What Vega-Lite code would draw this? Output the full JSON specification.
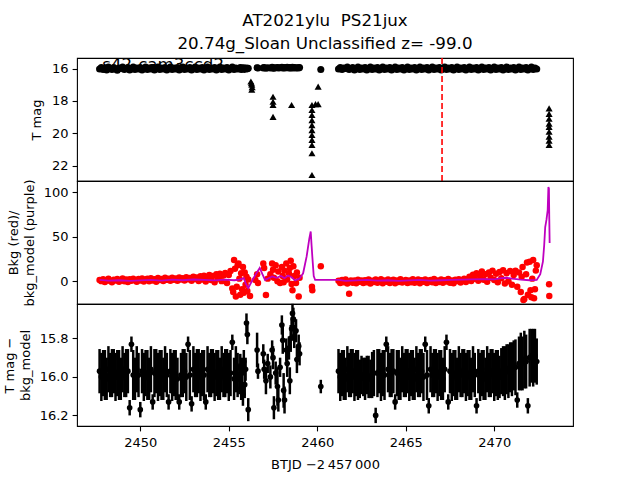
{
  "$schema": "https://vega.github.io/schema/vega-lite/v6.json",
  "padding": {"left": 2, "top": 12, "right": 60, "bottom": 5},
  "background": "white",
  "spacing": 0,
  "bounds": "flush",
  "datasets": {
    "lc": [
      {"t":2447.7,"m":16.03,"b":1.5,"d":15.97,"e":0.115},
      {"t":2447.8,"m":15.94,"b":0.2,"d":16.0,"e":0.125},
      {"t":2447.9,"m":16.06,"b":2.4,"d":15.98,"e":0.12},
      {"t":2448.0,"m":15.97,"b":-0.8,"d":15.99,"e":0.13},
      {"t":2448.1,"m":16.09,"b":1.1,"d":16.01,"e":0.11},
      {"t":2448.2,"m":15.91,"b":2.9,"d":15.96,"e":0.12},
      {"t":2448.3,"m":16.0,"b":0.4,"d":15.99,"e":0.115},
      {"t":2448.4,"m":16.06,"b":-1.0,"d":15.98,"e":0.125},
      {"t":2448.5,"m":15.94,"b":1.8,"d":15.97,"e":0.115},
      {"t":2448.6,"m":16.03,"b":0.9,"d":16.0,"e":0.125},
      {"t":2448.7,"m":16.1,"b":2.6,"d":15.98,"e":0.12},
      {"t":2448.8,"m":15.97,"b":-0.5,"d":15.99,"e":0.13},
      {"t":2448.9,"m":16.0,"b":1.3,"d":16.01,"e":0.11},
      {"t":2449.0,"m":15.91,"b":3.1,"d":15.96,"e":0.12},
      {"t":2449.1,"m":16.06,"b":0.0,"d":15.99,"e":0.115},
      {"t":2449.2,"m":16.0,"b":1.9,"d":15.98,"e":0.125},
      {"t":2449.3,"m":15.94,"b":-0.9,"d":15.97,"e":0.115},
      {"t":2449.4,"m":16.09,"b":2.2,"d":16.16,"e":0.04},
      {"t":2449.5,"m":16.03,"b":0.6,"d":15.83,"e":0.04},
      {"t":2449.6,"m":15.91,"b":3.0,"d":15.99,"e":0.13},
      {"t":2449.7,"m":16.06,"b":1.2,"d":16.01,"e":0.11},
      {"t":2449.8,"m":15.97,"b":-0.6,"d":15.96,"e":0.12},
      {"t":2449.9,"m":16.03,"b":2.5,"d":15.99,"e":0.115},
      {"t":2450.0,"m":15.94,"b":0.8,"d":16.17,"e":0.04},
      {"t":2450.1,"m":16.09,"b":3.3,"d":15.97,"e":0.115},
      {"t":2450.2,"m":16.0,"b":-0.3,"d":16.0,"e":0.125},
      {"t":2450.3,"m":15.91,"b":1.9,"d":15.98,"e":0.12},
      {"t":2450.4,"m":16.06,"b":2.8,"d":15.99,"e":0.13},
      {"t":2450.5,"m":15.97,"b":0.1,"d":16.01,"e":0.11},
      {"t":2450.6,"m":16.03,"b":3.5,"d":15.96,"e":0.12},
      {"t":2450.7,"m":15.94,"b":1.0,"d":16.13,"e":0.04},
      {"t":2450.8,"m":16.09,"b":2.2,"d":15.98,"e":0.125},
      {"t":2450.9,"m":16.0,"b":-0.4,"d":15.97,"e":0.115},
      {"t":2451.0,"m":15.91,"b":3.6,"d":16.0,"e":0.125},
      {"t":2451.1,"m":16.06,"b":1.4,"d":15.98,"e":0.12},
      {"t":2451.2,"m":15.97,"b":2.7,"d":15.99,"e":0.13},
      {"t":2451.3,"m":16.03,"b":0.3,"d":16.01,"e":0.11},
      {"t":2451.4,"m":15.94,"b":3.9,"d":15.96,"e":0.12},
      {"t":2451.5,"m":16.09,"b":1.6,"d":15.99,"e":0.115},
      {"t":2451.6,"m":16.0,"b":2.9,"d":16.13,"e":0.04},
      {"t":2451.7,"m":15.91,"b":0.5,"d":15.97,"e":0.115},
      {"t":2451.8,"m":16.06,"b":4.1,"d":16.0,"e":0.125},
      {"t":2451.9,"m":15.97,"b":1.8,"d":15.98,"e":0.12},
      {"t":2452.0,"m":16.03,"b":3.2,"d":15.99,"e":0.13},
      {"t":2452.1,"m":15.94,"b":0.6,"d":16.01,"e":0.11},
      {"t":2452.2,"m":16.09,"b":4.4,"d":16.13,"e":0.04},
      {"t":2452.3,"m":16.0,"b":2.0,"d":15.99,"e":0.115},
      {"t":2452.4,"m":15.91,"b":3.4,"d":15.98,"e":0.125},
      {"t":2452.5,"m":16.06,"b":0.9,"d":15.97,"e":0.115},
      {"t":2452.6,"m":15.97,"b":4.7,"d":16.0,"e":0.125},
      {"t":2452.7,"m":16.03,"b":2.3,"d":15.83,"e":0.04},
      {"t":2452.8,"m":15.94,"b":3.8,"d":15.99,"e":0.13},
      {"t":2452.9,"m":16.09,"b":0.7,"d":16.14,"e":0.04},
      {"t":2453.0,"m":16.0,"b":5.0,"d":15.96,"e":0.12},
      {"t":2453.1,"m":15.91,"b":2.5,"d":15.99,"e":0.115},
      {"t":2453.2,"m":16.06,"b":4.2,"d":15.98,"e":0.125},
      {"t":2453.3,"m":15.97,"b":0.4,"d":15.97,"e":0.115},
      {"t":2453.4,"m":16.03,"b":5.6,"d":16.0,"e":0.125},
      {"t":2453.5,"m":15.94,"b":2.1,"d":15.98,"e":0.12},
      {"t":2453.6,"m":16.09,"b":6.3,"d":15.99,"e":0.13},
      {"t":2453.7,"m":16.0,"b":-0.2,"d":16.13,"e":0.04},
      {"t":2453.8,"m":15.91,"b":4.8,"d":15.96,"e":0.12},
      {"t":2453.9,"m":16.06,"b":7.0,"d":15.99,"e":0.115},
      {"t":2454.0,"m":15.97,"b":1.5,"d":15.98,"e":0.125},
      {"t":2454.1,"m":16.03,"b":6.1,"d":15.97,"e":0.115},
      {"t":2454.2,"m":15.94,"b":-1.2,"d":16.0,"e":0.125},
      {"t":2454.3,"m":16.09,"b":7.8,"d":15.98,"e":0.12},
      {"t":2454.4,"m":16.0,"b":3.0,"d":15.99,"e":0.13},
      {"t":2454.5,"m":15.91,"b":8.5,"d":16.01,"e":0.11},
      {"t":2454.6,"m":16.06,"b":0.2,"d":15.96,"e":0.12},
      {"t":2454.7,"m":15.97,"b":6.6,"d":15.99,"e":0.115},
      {"t":2454.8,"m":16.03,"b":9.4,"d":15.98,"e":0.125},
      {"t":2454.9,"m":15.94,"b":-2.0,"d":15.97,"e":0.115},
      {"t":2455.0,"m":16.09,"b":7.2,"d":16.0,"e":0.125},
      {"t":2455.1,"m":16.0,"b":11.5,"d":15.98,"e":0.12},
      {"t":2455.2,"m":15.91,"b":-8.0,"d":15.82,"e":0.04},
      {"t":2455.25,"b":-12},
      {"t":2455.3,"m":16.06,"b":24.0,"d":16.01,"e":0.11},
      {"t":2455.35,"b":14},
      {"t":2455.4,"m":15.97,"b":-17.0,"d":15.96,"e":0.12},
      {"t":2455.45,"b":-6},
      {"t":2455.5,"m":16.03,"b":18.0,"d":15.99,"e":0.115},
      {"t":2455.55,"b":20},
      {"t":2455.6,"m":16.0,"b":3,"d":16.01,"e":0.08},
      {"t":2455.65,"m":15.94,"b":-15,"d":15.95,"e":0.07},
      {"t":2455.7,"m":16.06,"b":9,"d":16.06,"e":0.06},
      {"t":2455.75,"m":15.97,"b":-9,"d":15.98,"e":0.08},
      {"t":2455.8,"m":16.03,"b":16,"d":16.09,"e":0.06},
      {"t":2455.85,"m":15.95,"b":-13,"d":15.92,"e":0.06},
      {"t":2455.9,"m":16.05,"b":10,"d":16.04,"e":0.07},
      {"t":2455.95,"m":16.0,"b":-4,"d":15.96,"e":0.06},
      {"t":2456.0,"m":15.97,"b":5,"d":15.72,"e":0.05},
      {"t":2456.05,"m":16.02,"b":-11,"d":15.78,"e":0.05},
      {"t":2456.1,"m":15.98,"b":2,"d":16.17,"e":0.06},
      {"t":2456.2,"b":-16.5},
      {"t":2456.5,"b":1.5},
      {"t":2456.6,"m":15.95,"b":8,"d":15.86,"e":0.09},
      {"t":2456.65,"m":15.97,"b":-2,"d":15.97,"e":0.04},
      {"t":2456.95,"m":15.96,"b":20,"d":15.88,"e":0.05},
      {"t":2457.0,"m":15.94,"b":15,"d":15.96,"e":0.05},
      {"t":2457.1,"m":15.98,"b":-15.5,"d":16.02,"e":0.07},
      {"t":2457.2,"m":15.95,"b":3,"d":15.93,"e":0.05},
      {"t":2457.35,"m":15.97,"b":8,"d":16.0,"e":0.06},
      {"t":2457.45,"m":15.93,"b":20,"d":15.86,"e":0.05},
      {"t":2457.5,"m":15.96,"b":13,"d":15.9,"e":0.06},
      {"t":2457.55,"m":15.98,"b":4,"d":16.16,"e":0.06},
      {"t":2457.65,"m":15.95,"b":18,"d":15.98,"e":0.06},
      {"t":2457.75,"m":15.94,"b":0,"d":16.05,"e":0.1},
      {"t":2457.8,"m":15.97,"b":11,"d":16.12,"e":0.06},
      {"t":2457.9,"m":15.95,"b":-2,"d":15.95,"e":0.05},
      {"t":2458.0,"m":15.93,"b":16,"d":15.73,"e":0.05},
      {"t":2458.05,"m":15.96,"b":6,"d":15.81,"e":0.07},
      {"t":2458.1,"m":15.94,"b":-1,"d":16.07,"e":0.09},
      {"t":2458.15,"m":15.97,"b":12,"d":16.12,"e":0.07},
      {"t":2458.25,"m":15.95,"b":20,"d":15.86,"e":0.06},
      {"t":2458.3,"m":15.93,"b":2,"d":15.93,"e":0.07},
      {"t":2458.4,"m":15.96,"b":9,"d":15.85,"e":0.06},
      {"t":2458.45,"m":15.94,"b":15,"d":16.02,"e":0.07},
      {"t":2458.5,"m":15.97,"b":23,"d":15.8,"e":0.07},
      {"t":2458.55,"m":15.95,"b":-3,"d":15.75,"e":0.06},
      {"t":2458.6,"m":15.93,"b":-10,"d":15.67,"e":0.05},
      {"t":2458.65,"m":15.96,"b":17,"d":15.7,"e":0.06},
      {"t":2458.7,"m":15.94,"b":6,"d":15.79,"e":0.06},
      {"t":2458.8,"m":15.97,"b":-2,"d":15.76,"e":0.06},
      {"t":2458.85,"m":15.95,"b":10,"d":15.91,"e":0.07},
      {"t":2458.95,"m":15.96,"b":-17,"d":15.84,"e":0.06},
      {"t":2459.0,"m":15.94,"b":4,"d":15.88,"e":0.06},
      {"t":2459.7,"b":-6},
      {"t":2459.72,"b":-10},
      {"t":2460.2,"m":16.06,"b":17,"d":16.05,"e":0.035},
      {"t":2461.2,"m":16.03,"b":0.5,"d":15.97,"e":0.115},
      {"t":2461.3,"m":15.94,"b":-2.0,"d":16.0,"e":0.125},
      {"t":2461.4,"m":16.06,"b":1.5,"d":15.98,"e":0.12},
      {"t":2461.5,"m":15.97,"b":-1.0,"d":15.99,"e":0.13},
      {"t":2461.6,"m":16.0,"b":2.0,"d":16.01,"e":0.11},
      {"t":2461.7,"m":15.91,"b":-2.5,"d":15.96,"e":0.12},
      {"t":2461.8,"m":16.06,"b":-14.0,"d":15.99,"e":0.115},
      {"t":2461.9,"m":16.0,"b":1.0,"d":15.98,"e":0.125},
      {"t":2462.0,"m":15.94,"b":-1.5,"d":15.97,"e":0.115},
      {"t":2462.1,"m":16.09,"b":0.8,"d":16.0,"e":0.125},
      {"t":2462.2,"m":16.0,"b":-2.2,"d":15.98,"e":0.12},
      {"t":2462.3,"m":15.91,"b":1.8,"d":15.99,"e":0.13},
      {"t":2462.4,"m":16.06,"b":-0.6,"d":16.01,"e":0.1},
      {"t":2462.5,"m":15.97,"b":0.9,"d":15.99,"e":0.1},
      {"t":2462.6,"m":16.03,"b":-2.0,"d":16.0,"e":0.1},
      {"t":2462.7,"m":15.94,"b":1.3,"d":16.01,"e":0.11},
      {"t":2462.8,"m":16.09,"b":-1.1,"d":15.99,"e":0.1},
      {"t":2462.9,"m":16.0,"b":2.1,"d":16.0,"e":0.11},
      {"t":2463.0,"m":15.91,"b":-2.4,"d":16.01,"e":0.1},
      {"t":2463.1,"m":16.06,"b":0.7,"d":15.99,"e":0.12},
      {"t":2463.2,"m":15.97,"b":-0.9,"d":15.98,"e":0.12},
      {"t":2463.3,"m":16.03,"b":1.9,"d":16.2,"e":0.04},
      {"t":2463.4,"m":15.94,"b":-1.7,"d":15.98,"e":0.125},
      {"t":2463.5,"m":16.09,"b":0.4,"d":15.97,"e":0.115},
      {"t":2463.6,"m":16.0,"b":2.3,"d":16.0,"e":0.125},
      {"t":2463.7,"m":15.91,"b":-2.1,"d":15.98,"e":0.12},
      {"t":2463.8,"m":16.06,"b":1.0,"d":15.99,"e":0.13},
      {"t":2463.9,"m":15.97,"b":-0.4,"d":15.83,"e":0.04},
      {"t":2464.0,"m":16.03,"b":2.0,"d":15.96,"e":0.12},
      {"t":2464.1,"m":15.94,"b":-1.8,"d":15.99,"e":0.115},
      {"t":2464.2,"m":16.09,"b":0.6,"d":15.98,"e":0.125},
      {"t":2464.3,"m":16.0,"b":1.7,"d":15.97,"e":0.115},
      {"t":2464.4,"m":15.91,"b":-2.3,"d":16.13,"e":0.04},
      {"t":2464.5,"m":16.06,"b":0.9,"d":15.98,"e":0.12},
      {"t":2464.6,"m":15.97,"b":-0.7,"d":15.99,"e":0.13},
      {"t":2464.7,"m":16.03,"b":2.2,"d":16.01,"e":0.11},
      {"t":2464.8,"m":15.94,"b":-1.4,"d":15.96,"e":0.12},
      {"t":2464.9,"m":16.09,"b":0.3,"d":15.99,"e":0.115},
      {"t":2465.0,"m":16.0,"b":1.6,"d":15.98,"e":0.125},
      {"t":2465.1,"m":15.91,"b":-2.0,"d":15.97,"e":0.115},
      {"t":2465.2,"m":16.06,"b":0.8,"d":16.0,"e":0.125},
      {"t":2465.3,"m":15.97,"b":-1.0,"d":15.98,"e":0.12},
      {"t":2465.4,"m":16.03,"b":2.4,"d":15.99,"e":0.13},
      {"t":2465.5,"m":15.94,"b":-1.6,"d":16.01,"e":0.11},
      {"t":2465.6,"m":16.09,"b":0.5,"d":15.96,"e":0.12},
      {"t":2465.7,"m":16.0,"b":1.9,"d":15.99,"e":0.115},
      {"t":2465.8,"m":15.91,"b":-2.2,"d":15.98,"e":0.125},
      {"t":2465.9,"m":16.06,"b":1.1,"d":15.97,"e":0.115},
      {"t":2466.0,"m":15.97,"b":-0.5,"d":16.0,"e":0.125},
      {"t":2466.1,"m":16.03,"b":2.0,"d":15.83,"e":0.04},
      {"t":2466.2,"m":15.94,"b":-1.9,"d":15.99,"e":0.13},
      {"t":2466.3,"m":16.09,"b":0.7,"d":16.15,"e":0.04},
      {"t":2466.4,"m":16.0,"b":1.4,"d":15.96,"e":0.12},
      {"t":2466.5,"m":15.91,"b":-1.2,"d":15.99,"e":0.115},
      {"t":2466.6,"m":16.06,"b":2.5,"d":15.98,"e":0.125},
      {"t":2466.7,"m":15.97,"b":-2.0,"d":15.97,"e":0.115},
      {"t":2466.8,"m":16.03,"b":0.9,"d":16.0,"e":0.125},
      {"t":2466.9,"m":15.94,"b":-0.8,"d":15.98,"e":0.12},
      {"t":2467.0,"m":16.09,"b":2.1,"d":15.99,"e":0.13},
      {"t":2467.1,"m":16.0,"b":-1.7,"d":16.01,"e":0.11},
      {"t":2467.2,"m":15.91,"b":1.3,"d":15.96,"e":0.12},
      {"t":2467.3,"m":16.06,"b":-0.3,"d":15.82,"e":0.04},
      {"t":2467.4,"m":15.97,"b":2.6,"d":16.13,"e":0.04},
      {"t":2467.5,"m":16.03,"b":-1.5,"d":15.97,"e":0.115},
      {"t":2467.6,"m":15.94,"b":1.0,"d":16.0,"e":0.125},
      {"t":2467.7,"m":16.09,"b":-2.1,"d":15.98,"e":0.12},
      {"t":2467.8,"m":16.0,"b":1.8,"d":15.99,"e":0.13},
      {"t":2467.9,"m":15.91,"b":0.2,"d":16.01,"e":0.11},
      {"t":2468.0,"m":16.06,"b":2.4,"d":15.96,"e":0.12},
      {"t":2468.1,"m":15.97,"b":-1.4,"d":15.99,"e":0.115},
      {"t":2468.2,"m":16.03,"b":1.2,"d":15.98,"e":0.125},
      {"t":2468.3,"m":15.94,"b":3.0,"d":15.97,"e":0.115},
      {"t":2468.4,"m":16.09,"b":-0.9,"d":16.0,"e":0.125},
      {"t":2468.5,"m":16.0,"b":2.2,"d":15.98,"e":0.12},
      {"t":2468.6,"m":15.91,"b":5.0,"d":15.99,"e":0.13},
      {"t":2468.7,"m":16.06,"b":0.4,"d":16.01,"e":0.11},
      {"t":2468.8,"m":15.97,"b":7.5,"d":15.96,"e":0.12},
      {"t":2468.9,"m":16.03,"b":2.8,"d":15.99,"e":0.115},
      {"t":2469.0,"m":15.94,"b":9.0,"d":16.15,"e":0.04},
      {"t":2469.1,"m":16.09,"b":0.6,"d":15.97,"e":0.115},
      {"t":2469.2,"m":16.0,"b":6.5,"d":16.0,"e":0.125},
      {"t":2469.3,"m":15.91,"b":11.0,"d":15.98,"e":0.12},
      {"t":2469.4,"m":16.06,"b":1.8,"d":15.99,"e":0.13},
      {"t":2469.5,"m":15.97,"b":8.0,"d":16.01,"e":0.11},
      {"t":2469.6,"m":16.03,"b":-0.5,"d":15.96,"e":0.12},
      {"t":2469.7,"m":15.94,"b":10.0,"d":15.99,"e":0.115},
      {"t":2469.8,"m":16.09,"b":4.0,"d":15.98,"e":0.125},
      {"t":2469.9,"m":16.0,"b":12.0,"d":15.97,"e":0.115},
      {"t":2470.0,"m":15.91,"b":1.5,"d":16.0,"e":0.125},
      {"t":2470.1,"m":16.06,"b":8.5,"d":15.98,"e":0.12},
      {"t":2470.2,"m":15.97,"b":-1.0,"d":15.99,"e":0.13},
      {"t":2470.3,"m":16.03,"b":10.5,"d":16.0,"e":0.11},
      {"t":2470.4,"m":15.94,"b":3.5,"d":15.97,"e":0.12},
      {"t":2470.5,"m":16.09,"b":12.5,"d":15.97,"e":0.13},
      {"t":2470.6,"m":16.0,"b":-2.5,"d":15.98,"e":0.14},
      {"t":2470.7,"m":15.91,"b":9.0,"d":15.96,"e":0.13},
      {"t":2470.8,"m":16.06,"b":0.0,"d":15.97,"e":0.14},
      {"t":2470.9,"m":15.97,"b":11.5,"d":15.95,"e":0.13},
      {"t":2471.0,"m":16.03,"b":-4.0,"d":15.96,"e":0.14},
      {"t":2471.1,"m":15.94,"b":7.0,"d":15.94,"e":0.13},
      {"t":2471.2,"m":16.09,"b":12.0,"d":15.95,"e":0.145},
      {"t":2471.3,"m":16.0,"b":-6.0,"d":16.12,"e":0.04},
      {"t":2471.4,"m":15.91,"b":10.0,"d":15.93,"e":0.14},
      {"t":2471.5,"m":16.06,"b":-12.0,"d":15.92,"e":0.15},
      {"t":2471.55,"b":5},
      {"t":2471.6,"m":15.97,"b":16.0,"d":15.93,"e":0.14},
      {"t":2471.65,"b":-21},
      {"t":2471.7,"m":16.03,"b":-20.0,"d":15.91,"e":0.15},
      {"t":2471.8,"m":15.94,"b":8.0,"d":15.92,"e":0.14},
      {"t":2471.85,"b":21},
      {"t":2471.9,"m":16.09,"b":-15.0,"d":16.15,"e":0.04},
      {"t":2472.0,"m":16.0,"b":22.0,"d":15.9,"e":0.15},
      {"t":2472.05,"b":-10},
      {"t":2472.1,"m":15.91,"b":-18.0,"d":15.89,"e":0.14},
      {"t":2472.15,"b":3},
      {"t":2472.2,"m":16.06,"b":24.0,"d":15.9,"e":0.15},
      {"t":2472.25,"b":-19},
      {"t":2472.3,"m":15.97,"b":-9.0,"d":15.89,"e":0.14},
      {"t":2472.35,"b":12},
      {"t":2472.4,"m":16.03,"b":18.0,"d":15.92,"e":0.12},
      {"t":2473.1,"b":-3.4},
      {"t":2473.11,"b":-16.5}
    ],
    "bk": [
      {"t":2447.7,"k":1.5},{"t":2448.2,"k":0.8},{"t":2448.8,"k":1.2},{"t":2449.4,"k":0.5},
      {"t":2450.0,"k":1.0},{"t":2450.6,"k":1.5},{"t":2451.2,"k":0.8},{"t":2451.8,"k":1.8},
      {"t":2452.4,"k":1.2},{"t":2453.0,"k":2.0},{"t":2453.6,"k":1.5},{"t":2454.2,"k":1.0},
      {"t":2454.8,"k":1.8},{"t":2455.3,"k":1.2},{"t":2455.6,"k":2.0},{"t":2455.85,"k":3.5},
      {"t":2455.95,"k":-2},{"t":2456.1,"k":-7.6},{"t":2456.3,"k":0},{"t":2456.5,"k":7},
      {"t":2456.75,"k":15},{"t":2456.9,"k":8},{"t":2457.05,"k":1.5},{"t":2457.3,"k":4},
      {"t":2457.45,"k":5.5},{"t":2457.7,"k":4},{"t":2457.95,"k":6},{"t":2458.15,"k":3.5},
      {"t":2458.35,"k":6.5},{"t":2458.55,"k":4.5},{"t":2458.75,"k":1},{"t":2459.0,"k":3},
      {"t":2459.2,"k":9},{"t":2459.4,"k":28},{"t":2459.55,"k":48},{"t":2459.63,"k":56},
      {"t":2459.68,"k":40},{"t":2459.72,"k":28},{"t":2459.8,"k":6},{"t":2459.88,"k":1.5},
      {"t":2461.2,"k":1.5},{"t":2461.6,"k":0.5},{"t":2462.2,"k":1.0},{"t":2462.8,"k":1.5},
      {"t":2463.4,"k":0.8},{"t":2464.0,"k":1.2},{"t":2464.6,"k":0.5},{"t":2465.2,"k":1.0},
      {"t":2465.8,"k":1.5},{"t":2466.4,"k":0.8},{"t":2467.0,"k":1.2},{"t":2467.6,"k":1.5},
      {"t":2468.2,"k":1.8},{"t":2468.8,"k":2.2},{"t":2469.4,"k":2.5},{"t":2470.0,"k":2.2},
      {"t":2470.4,"k":3.5},{"t":2470.7,"k":4},{"t":2471.0,"k":3},{"t":2471.5,"k":1.8},
      {"t":2472.0,"k":1.2},{"t":2472.4,"k":1.5},{"t":2472.6,"k":8},{"t":2472.75,"k":22},
      {"t":2472.82,"k":40},{"t":2472.88,"k":61},{"t":2472.95,"k":69},{"t":2473.02,"k":80},
      {"t":2473.06,"k":106},{"t":2473.09,"k":104},{"t":2473.11,"k":70},{"t":2473.13,"k":43}
    ],
    "ul": [
      {"t":2456.25,"m":16.8},{"t":2456.3,"m":17.0},{"t":2456.32,"m":17.15},{"t":2456.28,"m":16.9},{"t":2456.3,"m":17.3},
      {"t":2457.5,"m":17.74},{"t":2457.5,"m":18.05},{"t":2457.5,"m":18.25},{"t":2457.5,"m":18.98},
      {"t":2458.55,"m":18.25},
      {"t":2459.7,"m":18.25},{"t":2459.7,"m":18.56},{"t":2459.7,"m":18.87},{"t":2459.7,"m":19.18},
      {"t":2459.7,"m":19.49},{"t":2459.7,"m":19.8},{"t":2459.7,"m":20.1},{"t":2459.7,"m":20.4},
      {"t":2459.7,"m":20.72},{"t":2459.7,"m":21.23},{"t":2459.7,"m":22.57},
      {"t":2459.9,"m":18.2},{"t":2460.05,"m":17.12},{"t":2460.05,"m":18.2},
      {"t":2473.1,"m":18.46},{"t":2473.1,"m":18.8},{"t":2473.1,"m":19.1},{"t":2473.1,"m":19.4},
      {"t":2473.1,"m":19.6},{"t":2473.1,"m":19.9},{"t":2473.1,"m":20.2},{"t":2473.1,"m":20.45},
      {"t":2473.1,"m":20.72}
    ]
  },
  "vconcat": [
    {
      "width": 496,
      "height": 123,
      "title": {
        "text": ["AT2021ylu\u00a0 PS21jux", "20.74g_Sloan Unclassified z= -99.0"],
        "frame": "group",
        "anchor": "middle",
        "font": "DejaVu Sans",
        "fontSize": 16.7,
        "fontWeight": "normal",
        "color": "black",
        "lineHeight": 23,
        "offset": 4
      },
      "layer": [
        {
          "data": {"values": [{}]},
          "mark": {"type": "text", "align": "left", "baseline": "alphabetic", "font": "DejaVu Sans", "fontSize": 16.7, "color": "black"},
          "encoding": {
            "x": {"datum": 2447.85, "type": "quantitative", "scale": {"domain": [2446.424, 2474.45], "nice": false, "zero": false}, "axis": null},
            "y": {"datum": 16.1, "type": "quantitative", "scale": {"domain": [15.35, 22.94], "reverse": true, "nice": false, "zero": false}},
            "text": {"value": "s42-cam3ccd2"}
          }
        },
        {
          "data": {"name": "lc"},
          "mark": {"type": "point", "shape": "circle", "filled": true, "size": 50, "color": "black", "opacity": 1},
          "encoding": {
            "x": {"field": "t", "type": "quantitative", "axis": null},
            "y": {"field": "m", "type": "quantitative",
                  "axis": {"values": [16, 18, 20, 22], "title": "T mag", "titleAngle": 270, "titleAlign": "center", "titleBaseline": "middle", "titleX": -41, "titleY": 61.5}}
          }
        },
        {
          "data": {"name": "ul"},
          "mark": {"type": "point", "shape": "triangle-up", "filled": true, "size": 50, "color": "black", "opacity": 1},
          "encoding": {
            "x": {"field": "t", "type": "quantitative"},
            "y": {"field": "m", "type": "quantitative"}
          }
        },
        {
          "data": {"values": [{}]},
          "mark": {"type": "rule", "color": "#ff0000", "strokeWidth": 1.6, "strokeDash": [6, 3]},
          "encoding": {"x": {"datum": 2467.05, "type": "quantitative"}}
        }
      ]
    },
    {
      "width": 496,
      "height": 123,
      "layer": [
        {
          "data": {"name": "lc"},
          "mark": {"type": "point", "shape": "circle", "filled": true, "size": 42, "color": "#ff0000", "opacity": 1},
          "encoding": {
            "x": {"field": "t", "type": "quantitative", "scale": {"domain": [2446.424, 2474.45], "nice": false, "zero": false}, "axis": null},
            "y": {"field": "b", "type": "quantitative", "scale": {"domain": [-25.5, 112.7], "nice": false, "zero": false},
                  "axis": {"values": [0, 50, 100], "title": ["Bkg (red)/", "bkg_model (purple)"], "titleAngle": 270, "titleAlign": "center", "titleBaseline": "middle", "titleX": -64, "titleY": 61.5, "titleLineHeight": 16}}
          }
        },
        {
          "data": {"name": "bk"},
          "mark": {"type": "line", "color": "#bf00bf", "strokeWidth": 1.8},
          "encoding": {
            "x": {"field": "t", "type": "quantitative"},
            "y": {"field": "k", "type": "quantitative"}
          }
        }
      ]
    },
    {
      "width": 496,
      "height": 122,
      "layer": [
        {
          "data": {"name": "lc"},
          "mark": {"type": "errorbar", "color": "black", "thickness": 2.5},
          "encoding": {
            "x": {"field": "t", "type": "quantitative", "scale": {"domain": [2446.424, 2474.45], "nice": false, "zero": false},
                  "axis": {"values": [2450, 2455, 2460, 2465, 2470], "format": "d", "labelPadding": 6, "title": "BTJD \u22122\u2009457\u2009000", "titlePadding": 9}},
            "y": {"field": "d", "type": "quantitative", "scale": {"domain": [15.621, 16.255], "reverse": true, "nice": false, "zero": false},
                  "axis": {"values": [15.8, 16.0, 16.2], "format": ".1f", "title": ["T mag \u2212", "bkg_model"], "titleAngle": 270, "titleAlign": "center", "titleBaseline": "middle", "titleX": -67.5, "titleY": 61, "titleLineHeight": 16}},
            "yError": {"field": "e"}
          }
        },
        {
          "data": {"name": "lc"},
          "mark": {"type": "point", "shape": "circle", "filled": true, "size": 32, "color": "black", "opacity": 1},
          "encoding": {
            "x": {"field": "t", "type": "quantitative"},
            "y": {"field": "d", "type": "quantitative"}
          }
        }
      ]
    }
  ],
  "config": {
    "view": {"stroke": "black", "strokeWidth": 1.1},
    "font": "DejaVu Sans",
    "axis": {
      "grid": false,
      "domain": false,
      "ticks": true,
      "tickColor": "black",
      "tickSize": 4.9,
      "tickWidth": 1.1,
      "labelFont": "DejaVu Sans",
      "labelFontSize": 13,
      "labelColor": "black",
      "labelPadding": 4,
      "titleFont": "DejaVu Sans",
      "titleFontSize": 13,
      "titleFontWeight": "normal",
      "titleColor": "black"
    }
  }
}
